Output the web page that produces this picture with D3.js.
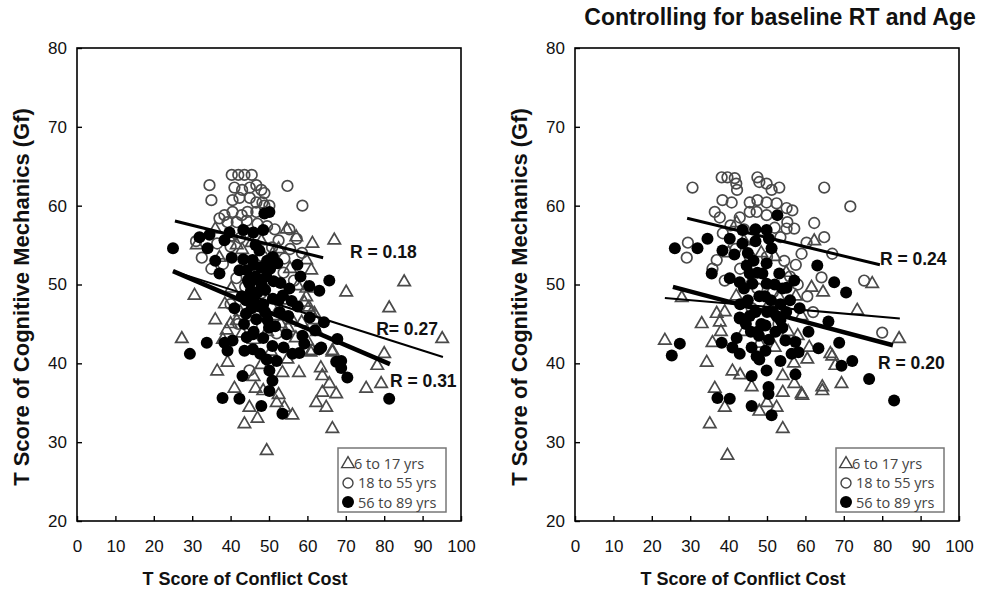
<!DOCTYPE html>
<html><head><meta charset="utf-8">
<script src="https://cdn.jsdelivr.net/npm/d3@7"></script>
<style>body{margin:0;background:#fff}svg{display:block}</style>
</head><body>
<svg id="chart" width="986" height="590"></svg>
<script>
// ---------- data ----------
const xTicks = [0,10,20,30,40,50,60,70,80,90,100];
const yTicks = [20,30,40,50,60,70,80];
const legendLabels = ["6 to 17 yrs","18 to 55 yrs","56 to 89 yrs"];
const xTitle = "T Score of Conflict Cost";
const yTitle = "T Score of Cognitive Mechanics (Gf)";
const rightTitle = "Controlling for baseline RT and Age";

// Left panel (raw)
const leftYoung = [[27.3,43.1],[30.6,48.6],[31.2,55.0],[39.0,44.2],[39.2,40.1],[41.0,36.8],[44.9,34.4],[43.6,32.3],[49.4,28.9],[54.0,34.4],[56.1,33.4],[53.5,38.8],[63.9,38.4],[65.7,37.4],[63.9,36.3],[62.3,35.0],[64.9,34.4],[66.5,31.7],[66.5,41.6],[61.3,41.6],[41.6,45.4],[59.2,47.7],[61.8,46.3],[67.0,55.6],[61.3,55.2],[85.2,50.3],[70.1,49.0],[81.3,47.0],[95.1,43.1],[80.0,41.2],[78.2,39.7],[79.2,37.4],[75.3,36.8],[67.5,36.1],[61.0,46.3],[62.0,45.5],[66.5,41.4],[60.8,41.4],[57.1,56.0],[51.0,53.9],[54.6,57.0],[59.7,53.1],[61.0,51.8],[59.7,49.5],[59.7,48.4],[60.4,47.1],[37.1,53.4],[41.6,55.0],[36.0,57.0],[39.5,56.0],[43.0,54.4],[45.5,55.3],[48.0,55.5],[52.5,54.5],[55.5,52.0],[57.5,49.8],[44.5,52.3],[40.2,49.5],[38.5,47.5],[42.5,46.5],[46.5,46.5],[49.5,44.0],[53.0,45.0],[55.0,44.5],[57.0,43.2],[54.5,48.0],[51.5,46.0],[48.5,50.0],[46.0,43.0],[43.0,43.8],[58.5,45.2],[56.0,45.5],[40.0,45.0],[36.0,45.5],[38.0,43.0],[50.5,41.5],[54.8,40.5],[57.8,38.8],[46.0,38.3],[48.0,39.8],[36.5,39.0],[48.5,36.5],[52.5,36.0],[47.0,33.0],[52.0,35.0],[60.0,42.8],[63.5,39.4],[62.5,44.0],[46.5,36.8]];
const leftMid = [[34.5,62.6],[35.0,60.7],[40.3,63.9],[42.0,63.9],[43.6,63.9],[45.5,63.9],[54.8,62.5],[58.7,60.0],[41.0,62.3],[43.0,62.0],[45.0,62.3],[46.7,62.6],[48.0,62.0],[48.8,61.6],[40.5,60.7],[42.3,61.0],[45.0,61.0],[46.7,60.4],[48.3,60.4],[38.4,58.8],[40.5,59.2],[42.9,58.8],[44.4,59.2],[46.7,59.2],[48.8,60.0],[37.1,58.4],[39.2,57.9],[41.6,57.9],[44.2,58.1],[50.1,60.0],[32.5,53.4],[44.9,39.1],[36.5,55.2],[40.0,54.8],[42.5,55.9],[38.0,52.6],[41.5,50.8],[43.8,49.7],[46.2,51.5],[48.2,53.6],[50.8,54.7],[52.5,55.6],[54.0,53.3],[55.5,54.5],[49.5,57.4],[51.5,57.0],[47.0,57.7],[44.0,56.6],[40.0,47.5],[42.0,45.0],[53.8,51.5],[56.5,50.5],[50.5,47.0],[48.0,48.9],[45.5,44.8],[52.0,43.8],[55.3,57.0],[57.2,55.8],[58.6,54.0],[31.0,55.5],[35.0,52.0]];
const leftOld = [[25.0,54.6],[29.4,41.2],[33.8,42.6],[38.4,42.6],[40.5,42.9],[39.2,41.6],[44.2,43.3],[45.8,43.7],[43.6,41.6],[45.8,41.8],[47.7,41.2],[49.4,40.5],[52.0,40.3],[43.1,38.4],[50.1,39.1],[50.9,37.8],[50.1,36.5],[37.9,35.6],[42.3,35.5],[48.0,34.6],[53.5,33.6],[54.6,43.7],[59.2,42.5],[56.1,41.2],[57.9,41.3],[63.1,41.8],[67.5,40.2],[65.7,50.5],[63.1,49.2],[67.8,43.1],[63.6,42.0],[68.8,40.3],[68.8,39.4],[70.4,38.2],[81.3,35.5],[58.7,43.5],[64.3,45.2],[31.9,56.0],[34.5,56.3],[34.0,54.6],[38.4,55.6],[39.7,56.6],[43.3,56.9],[45.9,56.6],[48.5,56.9],[48.8,59.0],[50.1,59.2],[47.5,54.3],[37.1,51.4],[42.3,51.8],[45.7,53.1],[44.2,51.8],[44.9,50.1],[47.5,50.5],[49.0,49.3],[46.0,48.0],[42.9,48.5],[52.2,52.7],[57.4,52.5],[58.2,51.0],[60.5,49.8],[55.3,49.5],[53.0,50.2],[50.3,52.0],[47.9,52.2],[46.5,55.0],[40.3,53.4],[36.0,53.0],[41.0,47.0],[44.0,46.3],[46.7,45.6],[49.6,45.5],[51.6,44.7],[52.8,46.5],[55.0,46.0],[57.5,47.2],[60.6,45.8],[62.0,44.2],[48.5,43.2],[50.9,42.2],[53.8,42.0],[44.0,48.0],[47.5,47.2],[51.0,48.2],[55.9,47.9],[43.3,53.2],[45.3,49.2],[49.3,51.0],[51.2,50.4],[53.6,48.6],[44.5,50.5],[46.5,51.0],[48.0,50.0],[46.0,52.5],[49.5,53.0],[51.0,53.5],[47.0,49.0],[45.5,47.0],[48.5,47.5],[50.0,44.5],[46.0,44.0],[43.5,45.0],[52.5,48.0],[49.0,46.5]];

// Right panel (controlled)
const rightYoung = [[23.4,42.9],[34.3,40.1],[36.4,36.8],[39.0,34.4],[35.1,32.3],[39.7,28.3],[48.0,33.9],[52.5,34.4],[54.1,31.7],[54.1,38.4],[54.1,36.3],[59.0,36.1],[64.4,37.0],[35.8,42.6],[36.9,46.3],[37.7,45.2],[67.0,40.9],[67.8,39.7],[57.1,37.4],[77.4,50.1],[73.5,46.7],[84.4,43.1],[66.5,41.2],[64.4,36.5],[69.4,37.4],[59.2,35.9],[62.3,55.5],[61.6,49.6],[64.6,49.0],[27.8,48.3],[42.1,57.8],[40.0,54.0],[44.0,55.5],[48.5,54.0],[52.0,53.5],[55.0,51.5],[57.5,48.5],[59.0,46.0],[46.0,50.5],[42.0,48.5],[39.0,46.5],[44.0,44.0],[48.0,42.5],[52.0,42.0],[55.5,44.0],[58.0,43.5],[61.0,42.0],[46.0,37.0],[50.0,35.0],[43.0,38.5],[57.0,40.0],[60.5,40.5],[41.0,39.0],[38.0,44.0],[33.0,45.0],[50.5,47.5],[53.0,48.5]];
const rightMid = [[30.6,62.3],[38.2,63.6],[39.7,63.6],[41.6,63.5],[47.5,63.6],[42.0,62.8],[42.2,62.0],[48.0,63.0],[49.9,62.8],[51.2,62.0],[53.2,62.3],[64.9,62.3],[38.4,60.7],[40.8,60.4],[45.5,60.4],[47.5,60.7],[49.9,60.4],[52.5,60.3],[55.1,59.7],[56.6,59.4],[36.4,59.2],[37.7,58.5],[42.9,58.5],[45.5,59.2],[47.3,59.2],[49.9,58.8],[55.3,57.9],[57.1,57.1],[55.1,57.1],[62.3,57.8],[64.9,56.0],[29.4,55.3],[29.1,53.4],[59.0,53.9],[60.3,55.3],[64.2,50.9],[36.9,53.1],[35.8,52.0],[67.0,53.9],[75.3,50.5],[80.0,43.9],[71.7,59.9],[40.5,57.5],[44.0,57.0],[52.0,57.2],[53.5,56.0],[38.5,56.5],[41.8,54.5],[50.0,53.5],[54.5,53.0],[57.5,52.5],[45.5,53.5],[43.0,52.0],[39.0,50.5],[47.5,49.5],[51.5,49.0],[56.0,51.0],[58.0,50.0],[60.5,48.5],[46.0,47.0],[53.0,45.0],[62.0,46.5]];
const rightOld = [[26.0,54.6],[31.9,54.6],[34.5,55.8],[40.3,55.8],[38.4,54.3],[35.6,51.4],[43.6,56.9],[49.9,56.9],[52.7,58.8],[43.6,55.2],[51.2,54.6],[44.7,52.4],[49.9,52.7],[45.5,51.4],[48.8,51.4],[53.2,51.4],[40.3,50.8],[42.9,50.3],[46.2,50.1],[49.9,50.1],[55.1,49.6],[57.1,50.5],[63.1,52.4],[42.9,45.8],[27.3,42.5],[25.2,41.0],[38.2,42.6],[41.0,42.0],[42.9,41.2],[42.1,43.2],[42.9,45.7],[45.8,44.0],[47.9,43.5],[49.6,44.8],[52.2,44.0],[54.8,42.9],[57.4,42.7],[58.2,41.4],[56.4,41.2],[53.5,40.3],[49.6,41.6],[47.3,40.9],[49.9,39.1],[46.0,38.4],[50.4,37.0],[50.4,36.1],[57.4,38.6],[63.4,41.9],[66.0,45.3],[60.8,44.0],[37.1,35.6],[40.3,35.5],[46.0,34.6],[51.2,33.4],[67.5,50.3],[70.6,49.0],[68.8,42.6],[69.4,39.7],[72.2,40.3],[76.6,38.0],[83.1,35.3],[45.0,54.0],[47.0,55.5],[50.5,55.8],[46.5,53.0],[48.0,48.5],[51.0,48.0],[53.5,47.5],[45.0,48.0],[43.0,47.5],[47.0,46.5],[50.0,46.5],[52.5,46.0],[55.0,46.5],[48.5,45.0],[44.5,45.0],[54.0,49.5],[56.0,48.0],[58.5,47.0],[52.0,50.0],[47.0,57.0],[41.5,53.8],[54.0,44.5],[47.5,51.5],[49.5,48.5],[51.5,46.5],[47.5,44.0],[45.5,46.0],[50.5,43.0],[53.5,45.5],[46.0,42.0],[48.0,40.5],[44.0,49.5]];

// Regression lines [x1,y1,x2,y2] and R labels [x,y,text]
const leftFits = [[25.5,58.05,64.1,53.4],[25.0,51.7,95.3,40.8],[25.0,51.7,81.5,39.9]];
const rightFits = [[29.2,58.4,79.4,52.5],[23.4,48.3,84.6,45.7],[25.5,49.7,82.8,42.3]];
const leftR = [[71.1,53.4,"R = 0.18"],[77.9,43.6,"R= 0.27"],[81.5,37.0,"R = 0.31"]];
const rightR = [[79.4,52.5,"R = 0.24"],[78.9,39.3,"R = 0.20"]];

// ---------- drawing ----------
const svg = d3.select("#chart");
const fitWidths = [3, 2, 4.5];
const FONT = "Liberation Sans, Arial, sans-serif";

function panel(x0, x1, young, mid, old, fits, rlabels, title) {
  const top = 48, bottom = 521;
  const x = d3.scaleLinear().domain([0,100]).range([x0,x1]);
  const y = d3.scaleLinear().domain([20,80]).range([bottom,top]);
  const g = svg.append("g");

  g.append("rect").attr("x",x0).attr("y",top).attr("width",x1-x0).attr("height",bottom-top)
    .attr("fill","none").attr("stroke","#000").attr("stroke-width",1.6);

  const xa = g.append("g").attr("transform",`translate(0,${bottom})`)
    .call(d3.axisBottom(x).tickValues(xTicks).tickSizeInner(-5).tickSizeOuter(0).tickPadding(19));
  const ya = g.append("g").attr("transform",`translate(${x0},0)`)
    .call(d3.axisLeft(y).tickValues(yTicks).tickSizeInner(-5).tickSizeOuter(0).tickPadding(10));
  [xa,ya].forEach(a=>{
    a.select(".domain").remove();
    a.selectAll("line").attr("stroke","#000").attr("stroke-width",1.4);
    a.selectAll("text").attr("font-family",FONT).attr("font-size",17).attr("fill","#111");
  });

  const tri = d3.symbol().type(d3.symbolTriangle).size(66);
  g.append("g").selectAll("path").data(young).join("path")
    .attr("d",tri).attr("transform",d=>`translate(${x(d[0])},${y(d[1])})`)
    .attr("fill","none").attr("stroke","#4a4a4a").attr("stroke-width",1.7);
  g.append("g").selectAll("circle").data(mid).join("circle")
    .attr("cx",d=>x(d[0])).attr("cy",d=>y(d[1])).attr("r",5.3)
    .attr("fill","none").attr("stroke","#4a4a4a").attr("stroke-width",1.7);
  g.append("g").selectAll("circle").data(old).join("circle")
    .attr("cx",d=>x(d[0])).attr("cy",d=>y(d[1])).attr("r",6)
    .attr("fill","#000");

  g.append("g").selectAll("line").data(fits).join("line")
    .attr("x1",d=>x(d[0])).attr("y1",d=>y(d[1])).attr("x2",d=>x(d[2])).attr("y2",d=>y(d[3]))
    .attr("stroke","#000").attr("stroke-width",(d,i)=>fitWidths[i]);

  g.append("g").selectAll("text").data(rlabels).join("text")
    .attr("x",d=>x(d[0])).attr("y",d=>y(d[1])).text(d=>d[2])
    .attr("font-family",FONT).attr("font-weight","bold")
    .attr("font-size",17.5).attr("fill","#111");

  g.append("text").attr("x",x0+168).attr("y",585).attr("text-anchor","middle")
    .attr("font-family",FONT).attr("font-weight","bold").attr("font-size",18)
    .attr("fill","#111").text(xTitle);
  g.append("text").attr("transform",`translate(${x0-48},${297}) rotate(-90)`).attr("text-anchor","middle")
    .attr("font-family",FONT).attr("font-weight","bold").attr("font-size",22)
    .attr("fill","#111").text(yTitle);

  if (title) {
    g.append("text").attr("x",780).attr("y",25).attr("text-anchor","middle")
      .attr("font-family",FONT).attr("font-weight","bold").attr("font-size",23)
      .attr("fill","#111").text(title);
  }

  const lx = x0 + 261, ly = 448;
  const lg = g.append("g");
  lg.append("rect").attr("x",lx).attr("y",ly).attr("width",108).attr("height",64)
    .attr("fill","#fff").attr("stroke","#777").attr("stroke-width",1.5);
  lg.append("path").attr("d",d3.symbol().type(d3.symbolTriangle).size(70)).attr("transform",`translate(${lx+10},${ly+16})`)
    .attr("fill","none").attr("stroke","#444").attr("stroke-width",1.4);
  lg.append("circle").attr("cx",lx+10).attr("cy",ly+35).attr("r",5).attr("fill","none").attr("stroke","#444").attr("stroke-width",1.4);
  lg.append("circle").attr("cx",lx+10).attr("cy",ly+54).attr("r",6).attr("fill","#000");
  lg.selectAll("text").data(legendLabels).join("text")
    .attr("x",(d,i)=> i===0 ? lx+16 : lx+20).attr("y",(d,i)=>ly+20.5+i*19.5)
    .attr("font-family","Open Sans, sans-serif").attr("font-size",14.5).attr("fill","#444").text(d=>d);
}

panel(77, 461, leftYoung, leftMid, leftOld, leftFits, leftR, null);
panel(575, 959, rightYoung, rightMid, rightOld, rightFits, rightR, rightTitle);
</script>
</body></html>
